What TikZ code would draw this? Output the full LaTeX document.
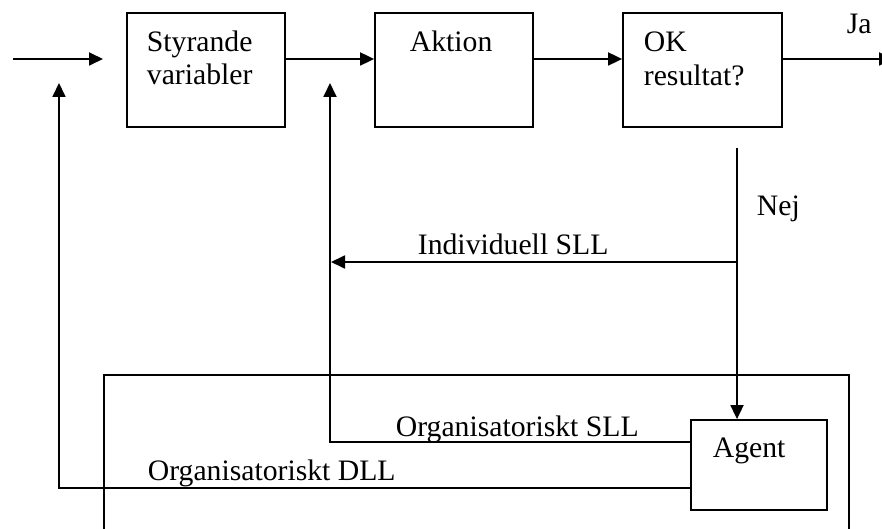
\documentclass[tikz,border=0pt]{standalone}
\usepackage{fontspec}
\setmainfont{Liberation Serif}
\usetikzlibrary{arrows.meta}
\begin{document}
\begin{tikzpicture}[x=1pt,y=-1pt,
  line width=1.8pt,
  every node/.style={font=\fontsize{29.7pt}{33pt}\selectfont},
  blockbox/.style={draw, line width=1.8pt, inner sep=0pt, fill=white},
  txt/.style={inner sep=0pt, anchor=base west},
  flow/.style={-{Triangle[length=14pt,width=13pt]}}]
\useasboundingbox (0,0) rectangle (882,529);

% organisation frame (runs off the lower edge)
\node[blockbox, fill=none, minimum width=745pt, minimum height=170pt] (org) at (476.5,460) {};

% process blocks
\node[blockbox, minimum width=158pt, minimum height=114pt] (sv) at (206,70) {};
\node[blockbox, minimum width=158pt, minimum height=114pt] (ak) at (454,70) {};
\node[blockbox, minimum width=159pt, minimum height=114pt] (ok) at (702.5,70) {};
\node[blockbox, minimum width=136pt, minimum height=90pt] (ag) at (759,465) {};

% block texts
\node[txt] (sv1) at (146,52) {Styrande};
\node[txt] (sv2) at (146,85) {variabler};
\node[txt] (ak1) at (409,52) {Aktion};
\node[txt] (ok1) at (643,52) {OK};
\node[txt] (ok2) at (643,86) {resultat?};
\node[txt] (ag1) at (712,457) {Agent};

% connector end points
\coordinate (in) at (13,59);
\coordinate (inend) at (103,59);
\coordinate (out) at (893,59);
\coordinate (nej) at (737,148);
\coordinate (split) at (737,262);
\coordinate (indend) at (331,262);
\coordinate (sll) at (330,442);
\coordinate (aktin) at (330,83);
\coordinate (dll) at (59,488);
\coordinate (styin) at (59,83);

% main flow
\draw[flow] (in) -- (inend);
\draw[flow] (sv.east |- in) -- (ak.west |- in);
\draw[flow] (ak.east |- in) -- (ok.west |- in);
\draw[flow] (ok.east |- in) -- (out);

% feedback loops
\draw[flow] (nej) -- (nej |- ag.north);
\draw[flow] (split) -- (indend);
\draw[flow] (ag.west |- sll) -- (sll) -- (aktin);
\draw[flow] (ag.west |- dll) -- (dll) -- (styin);

% labels
\node[txt] (ja) at (846,34) {Ja};
\node[txt] (nejl) at (756,215) {Nej};
\node[txt] (indl) at (417,254) {Individuell SLL};
\node[txt] (osll) at (395,436) {Organisatoriskt SLL};
\node[txt] (odll) at (147,480) {Organisatoriskt DLL};
\end{tikzpicture}
\end{document}
